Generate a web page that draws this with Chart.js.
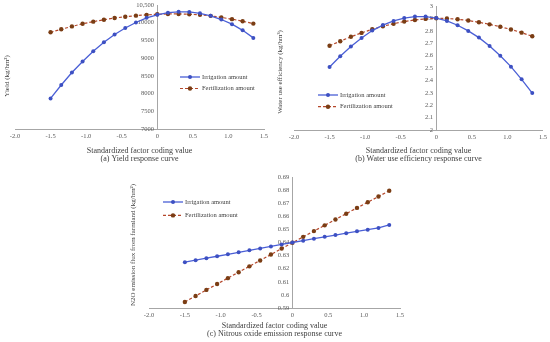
<!DOCTYPE html>
<html>
<head>
<meta charset="utf-8">
<script src="https://cdn.jsdelivr.net/npm/chart.js@4.4.1/dist/chart.umd.min.js"></script>
<style>
  html, body { margin: 0; padding: 0; background: #fff; }
  #wrap { position: relative; width: 550px; height: 342px; overflow: hidden; }
  canvas { position: absolute; }
</style>
</head>
<body>
<div id="wrap">
  <canvas id="yieldChart" width="275" height="165" style="left:0;top:0"></canvas>
  <canvas id="wueChart" width="275" height="165" style="left:275px;top:0"></canvas>
  <canvas id="n2oChart" width="350" height="177" style="left:100px;top:165px"></canvas>
</div>
<script>
// coded factor levels (x)
const codingValues = [-1.5, -1.35, -1.2, -1.05, -0.9, -0.75, -0.6, -0.45, -0.3, -0.15,
  0, 0.15, 0.3, 0.45, 0.6, 0.75, 0.9, 1.05, 1.2, 1.35];

// (a) yield, kg/hm2
const yieldIrrigation = [7863, 8242, 8594, 8907, 9194, 9447, 9668, 9852, 10006, 10138,
  10222, 10282, 10308, 10304, 10265, 10194, 10090, 9958, 9785, 9572];
const yieldFertilization = [9730, 9815, 9896, 9970, 10030, 10085, 10132, 10170, 10200, 10222,
  10238, 10247, 10248, 10240, 10222, 10194, 10150, 10100, 10042, 9975];

// (b) water use efficiency, kg/hm3
const wueIrrigation = [2.508, 2.595, 2.674, 2.742, 2.802, 2.846, 2.880, 2.903, 2.915, 2.915,
  2.903, 2.880, 2.845, 2.799, 2.745, 2.678, 2.599, 2.511, 2.409, 2.298];
const wueFertilization = [2.680, 2.716, 2.752, 2.783, 2.812, 2.837, 2.857, 2.875, 2.887, 2.896,
  2.901, 2.899, 2.893, 2.883, 2.869, 2.852, 2.833, 2.811, 2.785, 2.756];

// (c) N2O emission flux, kg/hm2
const n2oIrrigation = [0.6250, 0.6265, 0.6280, 0.6295, 0.6310, 0.6325, 0.6340, 0.6355, 0.6370, 0.6385,
  0.6400, 0.6414, 0.6429, 0.6443, 0.6457, 0.6471, 0.6485, 0.6498, 0.6511, 0.6534];
const n2oFertilization = [0.5946, 0.5992, 0.6038, 0.6083, 0.6128, 0.6173, 0.6218, 0.6263, 0.6308, 0.6354,
  0.6398, 0.6443, 0.6487, 0.6531, 0.6576, 0.6620, 0.6664, 0.6707, 0.6751, 0.6795];

const seriesNames = ["Irrigation amount", "Fertilization amount"];
const xTitle = "Standardized factor coding value";

const SERIF = "'Liberation Serif', 'Times New Roman', serif";
const TEXT = "#404040";
const TICK = "#595959";
const AXIS = "#a6a6a6";

// y title + in-plot legend
const sideText = {
  id: "sideText",
  afterDraw(chart, args, opts) {
    const ctx = chart.ctx;
    ctx.save();
    ctx.font = "7px " + SERIF;
    ctx.fillStyle = TEXT;
    ctx.textAlign = "center";
    ctx.textBaseline = "middle";
    ctx.translate(opts.titleX, opts.titleY);
    ctx.rotate(-Math.PI / 2);
    ctx.fillText(opts.title, 0, 0);
    ctx.restore();

    ctx.save();
    chart.data.datasets.forEach((ds, i) => {
      const x = opts.legendX;
      const y = opts.legendY + i * opts.legendGap;
      ctx.strokeStyle = ds.borderColor;
      ctx.lineWidth = ds.borderWidth;
      ctx.setLineDash(ds.borderDash || []);
      ctx.beginPath();
      ctx.moveTo(x, y);
      ctx.lineTo(x + 20, y);
      ctx.stroke();
      ctx.setLineDash([]);
      ctx.fillStyle = ds.pointBackgroundColor;
      ctx.beginPath();
      ctx.arc(x + 10, y, ds.pointRadius, 0, Math.PI * 2);
      ctx.fill();
      ctx.fillStyle = TEXT;
      ctx.textAlign = "left";
      ctx.textBaseline = "middle";
      ctx.font = "6.5px " + SERIF;
      ctx.fillText(ds.label, x + 22, y);
    });
    ctx.restore();
  }
};

function pts(values) {
  return codingValues.map((x, i) => ({ x: x, y: values[i] }));
}

function createResponseChart(canvas, irr, fert, cfg) {
  return new Chart(canvas, {
    type: "line",
    data: {
      datasets: [{
        label: seriesNames[0],
        data: pts(irr),
        borderColor: "#4a5fd6",
        pointBackgroundColor: "#3d50c2",
        pointBorderWidth: 0,
        pointRadius: 2,
        borderWidth: 1.3,
        tension: 0
      }, {
        label: seriesNames[1],
        data: pts(fert),
        borderColor: "#b5472b",
        borderDash: [3, 2],
        pointBackgroundColor: "#7a3d14",
        pointBorderWidth: 0,
        pointRadius: 2.2,
        borderWidth: 1.2,
        tension: 0
      }]
    },
    options: {
      responsive: false,
      animation: false,
      devicePixelRatio: 1,
      layout: { padding: cfg.padding },
      plugins: {
        legend: { display: false },
        tooltip: { enabled: false },
        sideText: cfg.side
      },
      scales: {
        x: {
          type: "linear",
          min: -2,
          max: 1.5,
          ticks: { stepSize: 0.5, color: TICK, font: { family: SERIF, size: 6.5 }, padding: 3, maxRotation: 0, autoSkip: false },
          grid: { display: true, color: "transparent", drawTicks: false },
          border: { color: AXIS, width: 1 },
          title: {
            display: true,
            text: [xTitle, cfg.caption],
            color: TEXT,
            font: { family: SERIF, size: 8, lineHeight: 1 },
            padding: { top: 0, bottom: 2 }
          },
          afterFit(s) { s.height = cfg.xHeight; }
        },
        y: {
          type: "linear",
          position: { x: 0 },
          min: cfg.yMin,
          max: cfg.yMax,
          ticks: { stepSize: cfg.yStep, color: TICK, font: { family: SERIF, size: 6.5 }, padding: 0, callback: cfg.yLabel },
          grid: { display: true, color: "transparent", drawTicks: false },
          border: { color: AXIS, width: 1 }
        }
      }
    },
    plugins: [sideText]
  });
}

createResponseChart(document.getElementById("yieldChart"), yieldIrrigation, yieldFertilization, {
  caption: "(a) Yield response curve",
  padding: { left: 15, right: 11, top: 5, bottom: 0 },
  xHeight: 36,
  yMin: 7000, yMax: 10500, yStep: 500,
  yLabel: v => (v === 10500 ? "10,500" : String(v)) + "  ",
  side: { title: "Yield (kg/hm²)", titleX: 7, titleY: 76, legendX: 180, legendY: 77, legendGap: 11.5 }
});

createResponseChart(document.getElementById("wueChart"), wueIrrigation, wueFertilization, {
  caption: "(b) Water use efficiency response curve",
  padding: { left: 19, right: 7, top: 6, bottom: 0 },
  xHeight: 35,
  yMin: 2, yMax: 3, yStep: 0.1,
  yLabel: v => String(+v.toFixed(2)) + "  ",
  side: { title: "Water use efficiency (kg/hm³)", titleX: 5, titleY: 72, legendX: 43, legendY: 95, legendGap: 11.7 }
});

createResponseChart(document.getElementById("n2oChart"), n2oIrrigation, n2oFertilization, {
  caption: "(c) Nitrous oxide emission response curve",
  padding: { left: 49, right: 50, top: 12, bottom: 2 },
  xHeight: 32,
  yMin: 0.59, yMax: 0.69, yStep: 0.01,
  yLabel: v => String(+v.toFixed(2)) + "  ",
  side: { title: "N2O emission flux from farmland (kg/hm²)", titleX: 33, titleY: 80, legendX: 63, legendY: 37, legendGap: 13.4 }
});
</script>
</body>
</html>
